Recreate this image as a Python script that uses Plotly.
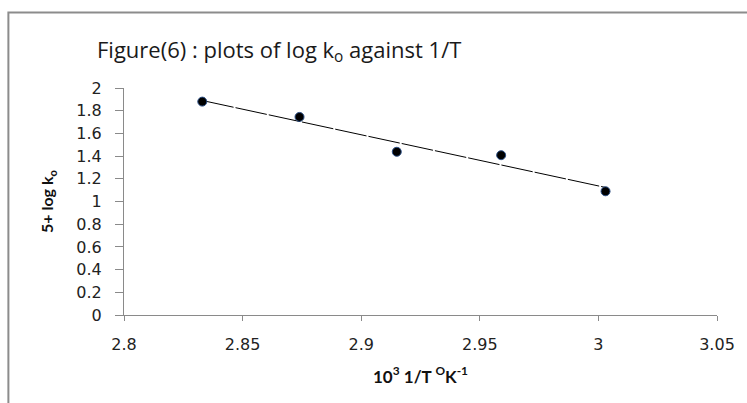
import numpy as np
import plotly.graph_objects as go

# ---- data ----
inv_T = [2.833, 2.874, 2.915, 2.959, 3.003]          # 10^3 / T
log_k = [1.88, 1.745, 1.438, 1.408, 1.09]            # 5 + log k_o
x_ticks = [2.8, 2.85, 2.9, 2.95, 3.0, 3.05]
x_tick_text = ["2.8", "2.85", "2.9", "2.95", "3", "3.05"]
y_ticks = [0, 0.2, 0.4, 0.6, 0.8, 1.0, 1.2, 1.4, 1.6, 1.8, 2.0]
y_tick_text = ["0", "0.2", "0.4", "0.6", "0.8", "1", "1.2", "1.4", "1.6", "1.8", "2"]

# linear trend line (least squares on the data)
slope, intercept = np.polyfit(inv_T, log_k, 1)
trend_x = [min(inv_T), max(inv_T)]
trend_y = [slope * v + intercept for v in trend_x]

W, H = 747, 403
ML, MR, MT, MB = 124, 28, 88, 88

def px_x(p):
    return (p - ML) / (W - ML - MR)

def px_y(p):
    return (H - MB - p) / (H - MT - MB)

tick_font = dict(family="DejaVu Sans", size=16, color="#222222")
axis_col = "#8a8a8a"

fig = go.Figure()
fig.add_trace(go.Scatter(
    x=trend_x, y=trend_y, mode="lines",
    line=dict(color="black", width=1, dash="32px,2px"),
    showlegend=False, hoverinfo="skip"))
fig.add_trace(go.Scatter(
    x=inv_T, y=log_k, mode="markers",
    marker=dict(color="black", size=9, line=dict(color="#2b4f86", width=1)),
    showlegend=False))

fig.update_layout(
    width=W, height=H,
    margin=dict(l=ML, r=MR, t=MT, b=MB),
    paper_bgcolor="white", plot_bgcolor="white",
    font=dict(family="DejaVu Sans", color="#222222"),
    title=dict(
        text="Figure(6) : plots of log k<sub>o</sub> against 1/T",
        font=dict(family="Open Sans", size=22, color="#1a1a1a"),
        x=97 / W, xref="container", xanchor="left",
        y=1 - 50 / H, yref="container", yanchor="middle"),
    xaxis=dict(
        range=[2.8, 3.05], tickvals=x_ticks, ticktext=x_tick_text,
        showgrid=False, zeroline=False, showline=True, linecolor=axis_col, linewidth=1,
        ticks="outside", ticklen=5, tickcolor=axis_col, tickfont=tick_font,
        ticklabelstandoff=10,
        title=dict(text="<b>10<sup>3</sup> 1/T <sup>O</sup>K<sup>-1</sup></b>",
                   font=dict(family="Lato", size=17, color="#111111"), standoff=17)),
    yaxis=dict(
        range=[0, 2], tickvals=y_ticks, ticktext=y_tick_text,
        showgrid=False, zeroline=False, showline=True, linecolor=axis_col, linewidth=1,
        ticks="outside", ticklen=8, tickcolor=axis_col, tickfont=tick_font,
        ticklabelstandoff=10,
        title=dict(text="<b>5+ log k<sub>o</sub></b>",
                   font=dict(family="Lato", size=16, color="#111111"), standoff=18)),
)

# outer chart frame (left/top visible, right/bottom beyond the window)
fig.add_shape(type="rect", xref="paper", yref="paper",
              x0=px_x(8), x1=px_x(760), y0=px_y(415), y1=px_y(12.5),
              line=dict(color="#8c8c8c", width=2), fillcolor="rgba(0,0,0,0)",
              layer="below")

fig.write_html("out.html")
